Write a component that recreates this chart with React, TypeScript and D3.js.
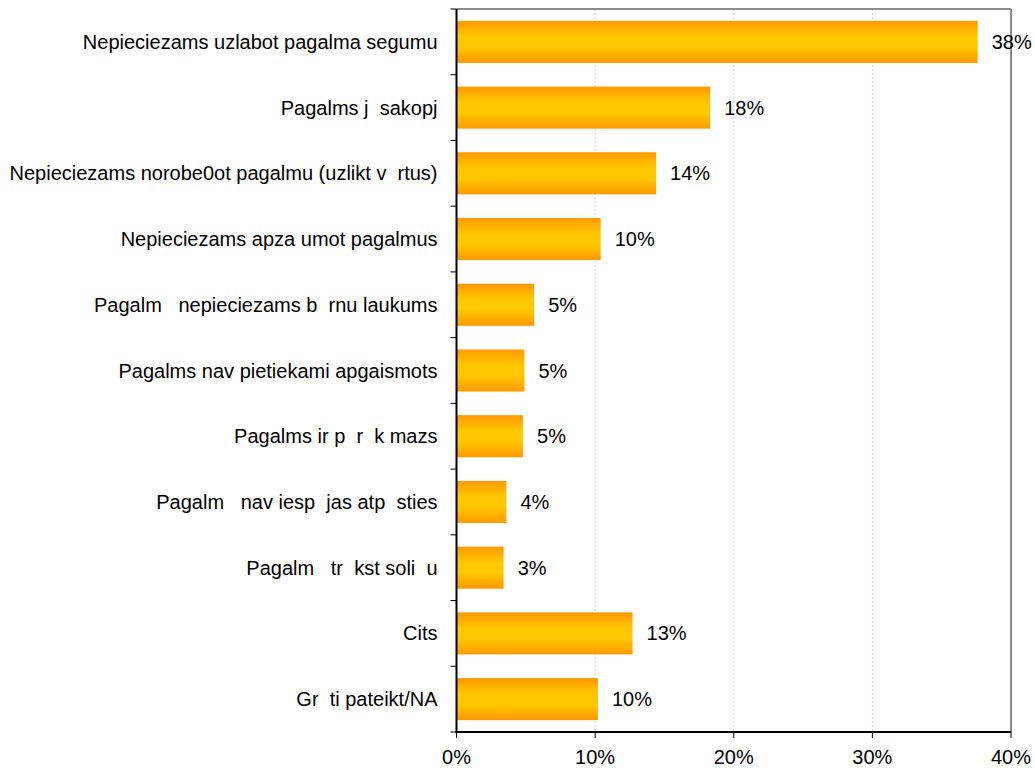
import { useEffect, useRef } from "react";
import * as d3 from "d3";

const categories = [
  "Nepieciezams uzlabot pagalma segumu",
  "Pagalms j  sakopj",
  "Nepieciezams norobe0ot pagalmu (uzlikt v  rtus)",
  "Nepieciezams apza umot pagalmus",
  "Pagalm   nepieciezams b  rnu laukums",
  "Pagalms nav pietiekami apgaismots",
  "Pagalms ir p  r  k mazs",
  "Pagalm   nav iesp  jas atp  sties",
  "Pagalm   tr  kst soli  u",
  "Cits",
  "Gr  ti pateikt/NA",
];

const values = [0.376, 0.183, 0.144, 0.104, 0.056, 0.049, 0.048, 0.036, 0.034, 0.127, 0.102];
const valueLabels = ["38%", "18%", "14%", "10%", "5%", "5%", "5%", "4%", "3%", "13%", "10%"];
const xTicks = [0, 0.1, 0.2, 0.3, 0.4];

const W = 1035;
const H = 768;
const FONT = "'Liberation Sans', Arial, sans-serif";
const FS = 20;

export default function App() {
  const ref = useRef<SVGSVGElement>(null);

  useEffect(() => {
    const svg = d3.select(ref.current);
    svg.selectAll("*").remove();

    const left = 456.5, right = 1011, top = 9, bottom = 732;

    const x = d3.scaleLinear().domain([0, 0.4]).range([left, right]);
    const y = d3.scaleBand<string>()
      .domain(categories)
      .range([top, bottom])
      .paddingInner(0.36)
      .paddingOuter(0.18);

    // bar gradient (orange edges, yellow middle)
    const grad = svg.append("defs").append("linearGradient")
      .attr("id", "barGrad")
      .attr("x1", 0).attr("y1", 0).attr("x2", 0).attr("y2", 1);
    grad.append("stop").attr("offset", "0%").attr("stop-color", "#FF9900");
    grad.append("stop").attr("offset", "38%").attr("stop-color", "#FFC800");
    grad.append("stop").attr("offset", "62%").attr("stop-color", "#FFC800");
    grad.append("stop").attr("offset", "100%").attr("stop-color", "#FF9900");

    // gridlines
    svg.append("g")
      .selectAll("line")
      .data(xTicks.slice(1, -1))
      .join("line")
      .attr("x1", d => x(d)).attr("x2", d => x(d))
      .attr("y1", top).attr("y2", bottom)
      .attr("stroke", "#d0d0d0")
      .attr("stroke-width", 1)
      .attr("stroke-dasharray", "2,2");

    // frame top and right
    svg.append("line")
      .attr("x1", left).attr("x2", right).attr("y1", top).attr("y2", top)
      .attr("stroke", "#8c8c8c").attr("stroke-width", 2);
    svg.append("line")
      .attr("x1", right).attr("x2", right).attr("y1", top).attr("y2", bottom)
      .attr("stroke", "#8c8c8c").attr("stroke-width", 2);

    // bars
    svg.append("g")
      .selectAll("rect")
      .data(categories)
      .join("rect")
      .attr("x", left)
      .attr("y", d => y(d)!)
      .attr("width", (_, i) => x(values[i]) - left)
      .attr("height", y.bandwidth())
      .attr("fill", "url(#barGrad)");

    // value labels
    svg.append("g")
      .selectAll("text")
      .data(categories)
      .join("text")
      .attr("x", (_, i) => x(values[i]) + 14)
      .attr("y", d => y(d)! + y.bandwidth() / 2)
      .attr("dy", "0.35em")
      .attr("font-family", FONT)
      .attr("font-size", FS)
      .attr("fill", "#000")
      .text((_, i) => valueLabels[i]);

    // y axis
    const step = y.step();
    const yAxis = svg.append("g");
    yAxis.append("line")
      .attr("x1", left).attr("x2", left).attr("y1", top).attr("y2", bottom + 0.5)
      .attr("stroke", "#000").attr("stroke-width", 2);
    yAxis.selectAll("line.tick")
      .data(d3.range(categories.length + 1))
      .join("line")
      .attr("class", "tick")
      .attr("x1", left - 6).attr("x2", left)
      .attr("y1", i => top + i * step).attr("y2", i => top + i * step)
      .attr("stroke", "#000").attr("stroke-width", 1);
    yAxis.selectAll("text")
      .data(categories)
      .join("text")
      .attr("x", left - 19)
      .attr("y", d => y(d)! + y.bandwidth() / 2)
      .attr("dy", "0.35em")
      .attr("text-anchor", "end")
      .attr("font-family", FONT)
      .attr("font-size", FS)
      .style("white-space", "pre")
      .attr("fill", "#000")
      .text(d => d);

    // x axis
    const xAxis = svg.append("g");
    xAxis.append("line")
      .attr("x1", left - 1).attr("x2", right).attr("y1", bottom).attr("y2", bottom)
      .attr("stroke", "#000").attr("stroke-width", 2);
    xAxis.selectAll("line.tick")
      .data(xTicks)
      .join("line")
      .attr("class", "tick")
      .attr("x1", d => x(d)).attr("x2", d => x(d))
      .attr("y1", bottom).attr("y2", bottom + 6)
      .attr("stroke", "#000").attr("stroke-width", 1);
    xAxis.selectAll("text")
      .data(xTicks)
      .join("text")
      .attr("x", d => x(d))
      .attr("y", 757)
      .attr("dy", "0.35em")
      .attr("text-anchor", "middle")
      .attr("font-family", FONT)
      .attr("font-size", FS)
      .attr("fill", "#000")
      .text(d => d3.format(".0%")(d));
  }, []);

  return (
    <svg
      ref={ref}
      width={W}
      height={H}
      style={{ position: "absolute", left: 0, top: 0, background: "#fff" }}
    />
  );
}
